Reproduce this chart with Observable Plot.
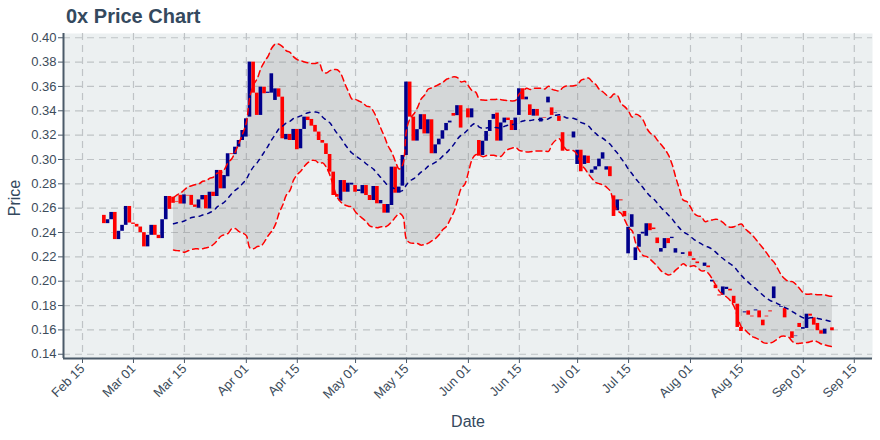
<!DOCTYPE html>
<html>
<head>
<meta charset="utf-8">
<script src="https://cdn.jsdelivr.net/npm/d3@7"></script>
<script src="https://cdn.jsdelivr.net/npm/@observablehq/plot@0.6"></script>
<style>
  html, body { margin: 0; padding: 0; background: #ffffff; }
  #wrap { position: relative; width: 880px; height: 440px; font-family: "Liberation Sans", Arial, Helvetica, sans-serif; }
  #title { position: absolute; left: 66px; top: 5px; font-size: 20px; font-weight: bold; color: #34495e; }
  #ylab { position: absolute; left: 15px; top: 198px; transform: translate(-50%, -50%) rotate(-90deg); font-size: 16px; color: #34495e; }
  #xlab { position: absolute; left: 468px; top: 422px; transform: translate(-50%, -50%); font-size: 16px; color: #34495e; }
  #chart svg { display: block; }
</style>
</head>
<body>
<div id="wrap">
  <div id="chart"></div>
  <div id="title">0x Price Chart</div>
  <div id="ylab">Price</div>
  <div id="xlab">Date</div>
</div>
<script>
// ---- data (daily, starting 2019-02-21) ----
const firstDay = "2019-02-21";
const opens = [
  // Feb 21-28
  0.2541, 0.2473, 0.2505, 0.2565, 0.2342, 0.2410, 0.2459, 0.2614,
  // Mar
  0.2478, 0.2467, 0.2445, 0.2399, 0.2282, 0.2377, 0.2459, 0.2377, 0.2350, 0.2505,
  0.2696, 0.2690, 0.2655, 0.2705, 0.2634, 0.2705, 0.2705, 0.2626, 0.2599, 0.2668,
  0.2704, 0.2594, 0.2731, 0.2696, 0.2910, 0.2759, 0.2858, 0.3047, 0.3040, 0.3101, 0.3156,
  // Apr
  0.3184, 0.3348, 0.3800, 0.3545, 0.3362, 0.3594, 0.3543, 0.3545, 0.3485, 0.3580,
  0.3512, 0.3162, 0.3206, 0.3156, 0.3247, 0.3088, 0.3247, 0.3348, 0.3329, 0.3280,
  0.3225, 0.3156, 0.3129, 0.3041, 0.2896, 0.2712, 0.2657, 0.2827, 0.2731, 0.2790,
  // May
  0.2786, 0.2737, 0.2718, 0.2786, 0.2704, 0.2663, 0.2778, 0.2636, 0.2630, 0.2559,
  0.2622, 0.2937, 0.2723, 0.2781, 0.3033, 0.3636, 0.3348, 0.3151, 0.3245, 0.3368,
  0.3210, 0.3326, 0.3047, 0.3120, 0.3167, 0.3236, 0.3300, 0.3378, 0.3360, 0.3442, 0.3340,
  // Jun
  0.3416, 0.3342, 0.3300, 0.3156, 0.3033, 0.3150, 0.3230, 0.3330, 0.3381, 0.3151,
  0.3300, 0.3340, 0.3320, 0.3238, 0.3362, 0.3581, 0.3490, 0.3449, 0.3356, 0.3411,
  0.3308, 0.3345, 0.3465, 0.3424, 0.3382, 0.3356, 0.3220, 0.3100, 0.3150, 0.3177,
  // Jul
  0.2959, 0.3076, 0.2959, 0.3027, 0.2886, 0.2913, 0.2940, 0.3003, 0.2913, 0.2940,
  0.2701, 0.2579, 0.2668, 0.2573, 0.2225, 0.2443, 0.2170, 0.2279, 0.2388, 0.2369,
  0.2472, 0.2437, 0.2355, 0.2239, 0.2268, 0.2350, 0.2350, 0.2231, 0.2250, 0.2220, 0.2230,
  // Aug
  0.2240, 0.2185, 0.2158, 0.2130, 0.2122, 0.2125, 0.1994, 0.1967, 0.1887, 0.1885,
  0.1932, 0.1934, 0.1876, 0.1811, 0.1620, 0.1740, 0.1756, 0.1713, 0.1756, 0.1756,
  0.1680, 0.1713, 0.1756, 0.1857, 0.1820, 0.1784, 0.1775, 0.1650, 0.1584, 0.1545, 0.1653,
  // Sep 1-9
  0.1605, 0.1612, 0.1729, 0.1699, 0.1653, 0.1593, 0.1565, 0.1600, 0.1617
];
const closes = [
  // Feb 21-28
  0.2473, 0.2505, 0.2565, 0.2342, 0.2410, 0.2459, 0.2614, 0.2478,
  // Mar
  0.2467, 0.2445, 0.2399, 0.2282, 0.2377, 0.2459, 0.2377, 0.2350, 0.2505, 0.2696,
  0.2590, 0.2640, 0.2650, 0.2634, 0.2709, 0.2700, 0.2623, 0.2607, 0.2668, 0.2704,
  0.2594, 0.2731, 0.2696, 0.2910, 0.2759, 0.2868, 0.3047, 0.3040, 0.3101, 0.3156, 0.3238,
  // Apr
  0.3334, 0.3800, 0.3545, 0.3362, 0.3594, 0.3540, 0.3553, 0.3704, 0.3580, 0.3512,
  0.3170, 0.3206, 0.3156, 0.3247, 0.3080, 0.3247, 0.3348, 0.3320, 0.3274, 0.3225,
  0.3156, 0.3134, 0.3041, 0.2896, 0.2704, 0.2690, 0.2827, 0.2731, 0.2805, 0.2805,
  // May
  0.2731, 0.2751, 0.2786, 0.2704, 0.2663, 0.2778, 0.2636, 0.2663, 0.2559, 0.2630,
  0.2937, 0.2723, 0.2773, 0.3033, 0.3636, 0.3348, 0.3151, 0.3245, 0.3368, 0.3210,
  0.3326, 0.3047, 0.3120, 0.3167, 0.3236, 0.3296, 0.3315, 0.3356, 0.3442, 0.3258, 0.3340,
  // Jun
  0.3342, 0.3416, 0.3300, 0.3027, 0.3150, 0.3230, 0.3320, 0.3370, 0.3151, 0.3300,
  0.3340, 0.3320, 0.3238, 0.3340, 0.3581, 0.3490, 0.3512, 0.3362, 0.3411, 0.3356,
  0.3340, 0.3340, 0.3512, 0.3362, 0.3386, 0.3313, 0.3068, 0.3100, 0.3150, 0.3226,
  // Jul
  0.3076, 0.2899, 0.3030, 0.2967, 0.2913, 0.2940, 0.3003, 0.3055, 0.2940, 0.2859,
  0.2532, 0.2668, 0.2660, 0.2530, 0.2443, 0.2546, 0.2274, 0.2383, 0.2402, 0.2472,
  0.2415, 0.2424, 0.2309, 0.2268, 0.2350, 0.2309, 0.2361, 0.2267, 0.2250, 0.2234, 0.2230,
  // Aug
  0.2204, 0.2171, 0.2144, 0.2130, 0.2149, 0.2111, 0.2008, 0.1939, 0.1879, 0.1953,
  0.1950, 0.1920, 0.1816, 0.1620, 0.1587, 0.1748, 0.1721, 0.1707, 0.1764, 0.1699,
  0.1634, 0.1707, 0.1748, 0.1953, 0.1820, 0.1790, 0.1699, 0.1650, 0.1530, 0.1549, 0.1620,
  // Sep 1-9
  0.1619, 0.1729, 0.1713, 0.1639, 0.1593, 0.1565, 0.1606, 0.1600, 0.1593
];
const xTickDates = ["2019-02-15","2019-03-01","2019-03-15","2019-04-01","2019-04-15","2019-05-01",
  "2019-05-15","2019-06-01","2019-06-15","2019-07-01","2019-07-15","2019-08-01","2019-08-15",
  "2019-09-01","2019-09-15"];
const yTicks = [0.14,0.16,0.18,0.20,0.22,0.24,0.26,0.28,0.30,0.32,0.34,0.36,0.38,0.40];
const xRange = ["2019-02-09T18:40Z", "2019-09-20T00:00Z"];
const yRange = [0.1365, 0.4035];
const bollWindow = 20, bollK = 2;

// ---- build table ----
const DAY = 864e5;
const t0 = new Date(firstDay + "T00:00Z").getTime();
const rows = opens.map((o, i) => ({
  date: new Date(t0 + i * DAY),
  open: o,
  close: closes[i]
}));
const bands = [];
for (let i = bollWindow - 1; i < rows.length; i++) {
  const w = closes.slice(i - bollWindow + 1, i + 1);
  const m = d3.mean(w), s = d3.deviation(w);
  bands.push({date: rows[i].date, mid: m, upper: m + bollK * s, lower: m - bollK * s});
}
const up = rows.filter(d => d.close >= d.open);
const down = rows.filter(d => d.close < d.open);
const xTicks = xTickDates.map(s => new Date(s + "T00:00Z"));
const xDomain = xRange.map(s => new Date(s));

const axisColor = "#4b5a69";
const gridStyle = {stroke: "#bfc3c6", strokeOpacity: 1, strokeWidth: 1.2, strokeDasharray: "7,5"};
const candle = (data, color) => Plot.rect(data, {
  x1: d => new Date(+d.date - DAY / 2),
  x2: d => new Date(+d.date + DAY / 2),
  y1: "open", y2: "close", fill: color
});

const chart = Plot.plot({
  width: 880, height: 440,
  marginTop: 33, marginBottom: 82, marginLeft: 63, marginRight: 8,
  x: {type: "utc", domain: xDomain},
  y: {domain: yRange},
  style: {fontFamily: "'Liberation Sans', Arial, sans-serif", fontSize: "13px", color: "#3d4c5b", background: "transparent", overflow: "visible"},
  marks: [
    Plot.frame({fill: "#ecf0f1", stroke: null}),
    Plot.gridX(xTicks, gridStyle),
    Plot.gridY(yTicks, gridStyle),
    Plot.areaY(bands, {x: "date", y1: "lower", y2: "upper", curve: "catmull-rom", fill: "#808080", fillOpacity: 0.22}),
    candle(up, "#00008b"),
    candle(down, "#ff0000"),
    Plot.line(bands, {x: "date", y: "upper", curve: "catmull-rom", stroke: "#ff0000", strokeWidth: 1.5, strokeDasharray: "6,4"}),
    Plot.line(bands, {x: "date", y: "lower", curve: "catmull-rom", stroke: "#ff0000", strokeWidth: 1.5, strokeDasharray: "6,4"}),
    Plot.line(bands, {x: "date", y: "mid", curve: "catmull-rom", stroke: "#00008b", strokeWidth: 1.5, strokeDasharray: "4,5"}),
    Plot.ruleX([xDomain[0]], {stroke: axisColor, strokeWidth: 2}),
    Plot.ruleY([yRange[0]], {stroke: axisColor, strokeWidth: 2}),
    Plot.axisY({ticks: yTicks, tickFormat: d3.format(".2f"), tickSize: 5, tickPadding: 2, label: null, stroke: axisColor, fontSize: 13}),
    Plot.axisX({ticks: xTicks, tickFormat: d3.utcFormat("%b %d"), tickRotate: -45, tickSize: 5, tickPadding: 3, label: null, stroke: axisColor, fontSize: 13})
  ]
});
document.getElementById("chart").appendChild(chart);
</script>
</body>
</html>
